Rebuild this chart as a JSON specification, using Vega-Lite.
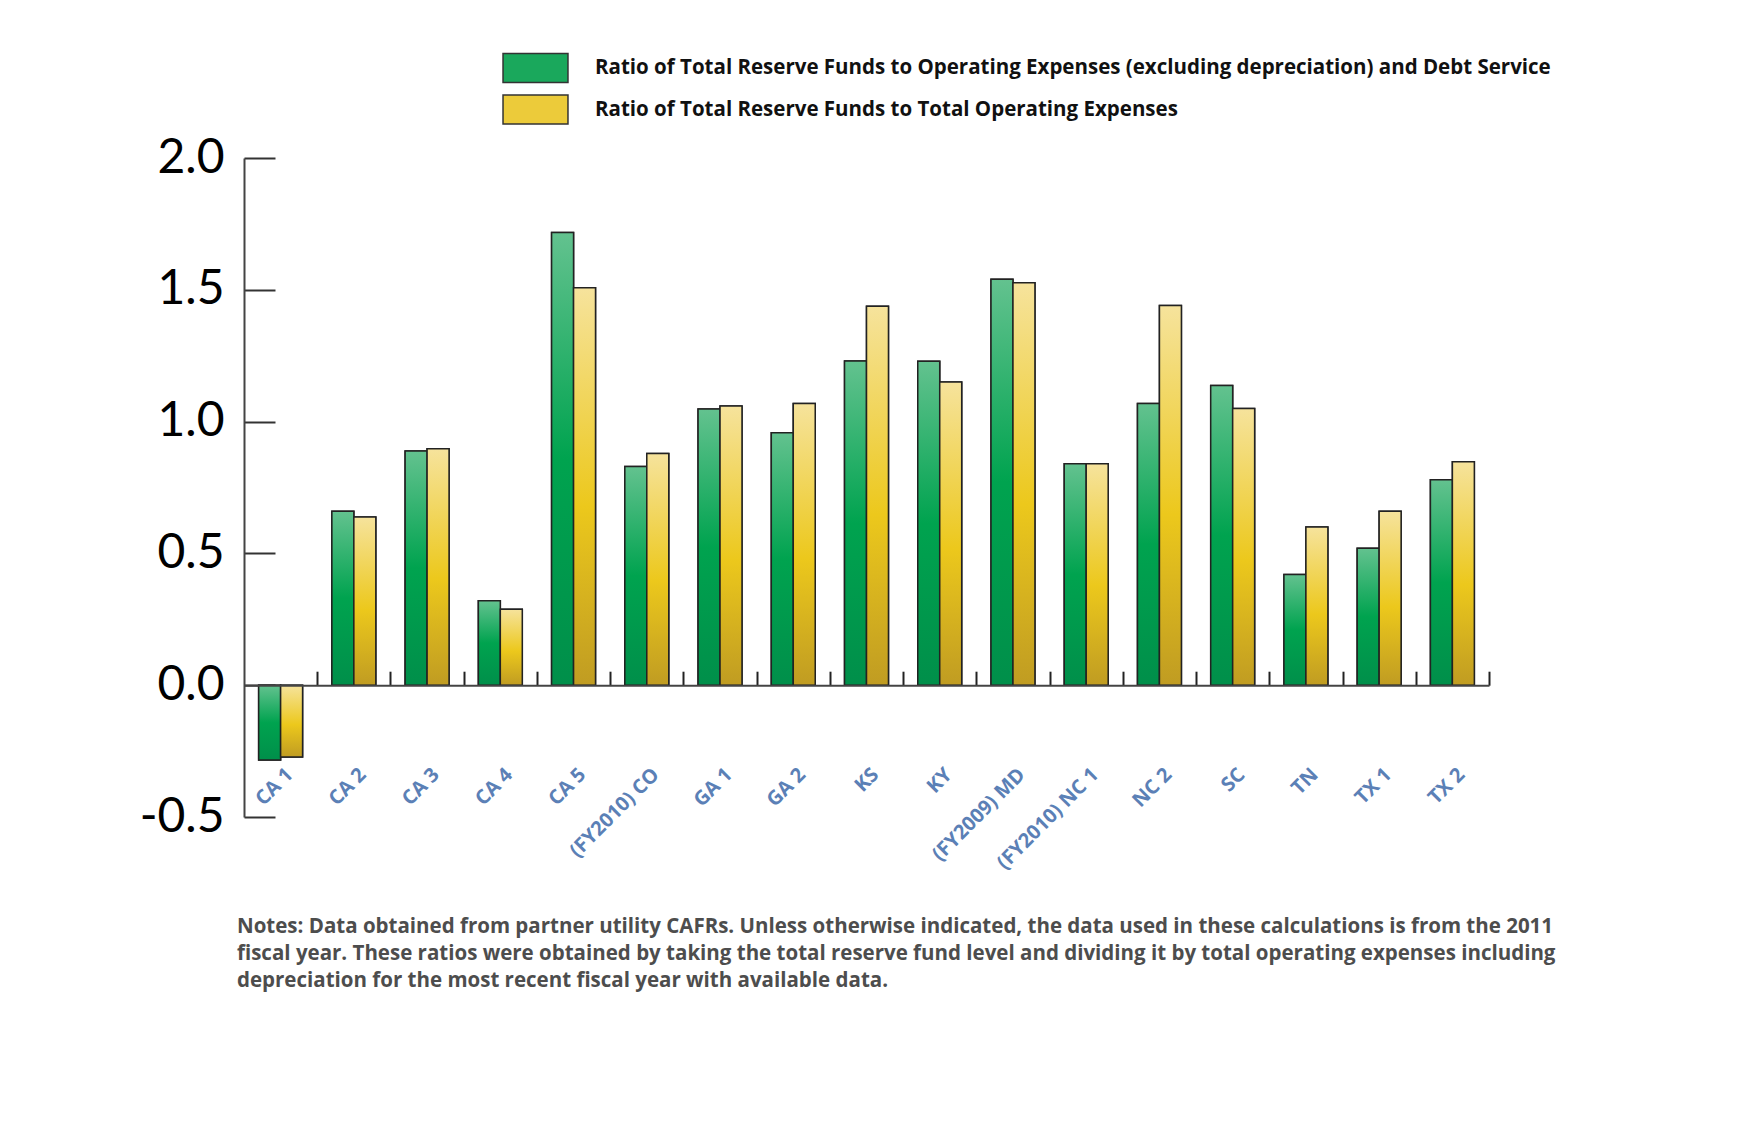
{
  "$schema": "https://vega.github.io/schema/vega-lite/v6.json",
  "width": 1245,
  "height": 659,
  "autosize": {"type": "none"},
  "padding": {"left": 244, "top": 158, "right": 265, "bottom": 317},
  "background": "white",
  "config": {"view": {"stroke": null}, "axis": {"grid": false}},
  "datasets": {
    "ratios": [
      {"site": "CA 1", "series": "Ratio of Total Reserve Funds to Operating Expenses (excluding depreciation) and Debt Service", "value": -0.284},
      {"site": "CA 1", "series": "Ratio of Total Reserve Funds to Total Operating Expenses", "value": -0.272},
      {"site": "CA 2", "series": "Ratio of Total Reserve Funds to Operating Expenses (excluding depreciation) and Debt Service", "value": 0.66},
      {"site": "CA 2", "series": "Ratio of Total Reserve Funds to Total Operating Expenses", "value": 0.638},
      {"site": "CA 3", "series": "Ratio of Total Reserve Funds to Operating Expenses (excluding depreciation) and Debt Service", "value": 0.888},
      {"site": "CA 3", "series": "Ratio of Total Reserve Funds to Total Operating Expenses", "value": 0.897},
      {"site": "CA 4", "series": "Ratio of Total Reserve Funds to Operating Expenses (excluding depreciation) and Debt Service", "value": 0.32},
      {"site": "CA 4", "series": "Ratio of Total Reserve Funds to Total Operating Expenses", "value": 0.288},
      {"site": "CA 5", "series": "Ratio of Total Reserve Funds to Operating Expenses (excluding depreciation) and Debt Service", "value": 1.717},
      {"site": "CA 5", "series": "Ratio of Total Reserve Funds to Total Operating Expenses", "value": 1.508},
      {"site": "(FY2010) CO", "series": "Ratio of Total Reserve Funds to Operating Expenses (excluding depreciation) and Debt Service", "value": 0.83},
      {"site": "(FY2010) CO", "series": "Ratio of Total Reserve Funds to Total Operating Expenses", "value": 0.879},
      {"site": "GA 1", "series": "Ratio of Total Reserve Funds to Operating Expenses (excluding depreciation) and Debt Service", "value": 1.048},
      {"site": "GA 1", "series": "Ratio of Total Reserve Funds to Total Operating Expenses", "value": 1.059},
      {"site": "GA 2", "series": "Ratio of Total Reserve Funds to Operating Expenses (excluding depreciation) and Debt Service", "value": 0.958},
      {"site": "GA 2", "series": "Ratio of Total Reserve Funds to Total Operating Expenses", "value": 1.069},
      {"site": "KS", "series": "Ratio of Total Reserve Funds to Operating Expenses (excluding depreciation) and Debt Service", "value": 1.23},
      {"site": "KS", "series": "Ratio of Total Reserve Funds to Total Operating Expenses", "value": 1.438},
      {"site": "KY", "series": "Ratio of Total Reserve Funds to Operating Expenses (excluding depreciation) and Debt Service", "value": 1.229},
      {"site": "KY", "series": "Ratio of Total Reserve Funds to Total Operating Expenses", "value": 1.15},
      {"site": "(FY2009) MD", "series": "Ratio of Total Reserve Funds to Operating Expenses (excluding depreciation) and Debt Service", "value": 1.54},
      {"site": "(FY2009) MD", "series": "Ratio of Total Reserve Funds to Total Operating Expenses", "value": 1.527},
      {"site": "(FY2010) NC 1", "series": "Ratio of Total Reserve Funds to Operating Expenses (excluding depreciation) and Debt Service", "value": 0.84},
      {"site": "(FY2010) NC 1", "series": "Ratio of Total Reserve Funds to Total Operating Expenses", "value": 0.84},
      {"site": "NC 2", "series": "Ratio of Total Reserve Funds to Operating Expenses (excluding depreciation) and Debt Service", "value": 1.069},
      {"site": "NC 2", "series": "Ratio of Total Reserve Funds to Total Operating Expenses", "value": 1.44},
      {"site": "SC", "series": "Ratio of Total Reserve Funds to Operating Expenses (excluding depreciation) and Debt Service", "value": 1.137},
      {"site": "SC", "series": "Ratio of Total Reserve Funds to Total Operating Expenses", "value": 1.05},
      {"site": "TN", "series": "Ratio of Total Reserve Funds to Operating Expenses (excluding depreciation) and Debt Service", "value": 0.42},
      {"site": "TN", "series": "Ratio of Total Reserve Funds to Total Operating Expenses", "value": 0.6},
      {"site": "TX 1", "series": "Ratio of Total Reserve Funds to Operating Expenses (excluding depreciation) and Debt Service", "value": 0.52},
      {"site": "TX 1", "series": "Ratio of Total Reserve Funds to Total Operating Expenses", "value": 0.66},
      {"site": "TX 2", "series": "Ratio of Total Reserve Funds to Operating Expenses (excluding depreciation) and Debt Service", "value": 0.779},
      {"site": "TX 2", "series": "Ratio of Total Reserve Funds to Total Operating Expenses", "value": 0.848}
    ]
  },
  "data": {"name": "ratios"},
  "title": {
    "text": [
      "Notes: Data obtained from partner utility CAFRs.  Unless otherwise indicated,  the data used in these calculations is from the 2011",
      "fiscal year.  These ratios were obtained by taking the total reserve fund level and dividing it by total operating expenses including",
      "depreciation for the  most recent fiscal year with available data."
    ],
    "orient": "bottom",
    "anchor": "start",
    "align": "left",
    "frame": "group",
    "font": "Open Sans",
    "fontSize": 20.5,
    "fontWeight": "bold",
    "color": "#4d4d4d",
    "lineHeight": 27,
    "offset": 44,
    "dx": -7
  },
  "encoding": {
    "x": {
      "field": "site",
      "type": "nominal",
      "sort": null,
      "scale": {"paddingInner": 0.4, "paddingOuter": 0.2},
      "axis": {
        "orient": "bottom",
        "offset": -131.8,
        "title": null,
        "domain": true,
        "domainColor": "#444",
        "domainWidth": 2,
        "ticks": true,
        "tickOffset": 36.62,
        "tickSize": -14,
        "tickColor": "#222",
        "tickWidth": 2,
        "labelOffset": -28,
        "labelAngle": -45,
        "labelAlign": "right",
        "labelBaseline": "middle",
        "labelPadding": 100,
        "labelFont": "Open Sans",
        "labelFontWeight": "bold",
        "labelFontSize": 20,
        "labelColor": "#5b80b6",
        "labelLimit": 0,
        "zindex": 1
      }
    },
    "xOffset": {"field": "series", "type": "nominal"},
    "y": {
      "field": "value",
      "type": "quantitative",
      "scale": {"domain": [-0.5, 2], "nice": false, "zero": false},
      "axis": {
        "orient": "left",
        "title": null,
        "values": [-0.5, 0, 0.5, 1, 1.5, 2],
        "domainColor": "#444",
        "domainWidth": 2,
        "tickSize": -31,
        "tickColor": "#333",
        "tickWidth": 2,
        "labelFont": "Lato",
        "labelFontSize": 48,
        "labelColor": "#000",
        "labelPadding": 51,
        "labelExpr": "datum.value < 0 ? '-' + format(-datum.value, '.1f') : format(datum.value, '.1f')"
      }
    }
  },
  "layer": [
    {
      "mark": {"type": "bar", "stroke": "#222", "strokeWidth": 1.5},
      "encoding": {
        "color": {
          "field": "series",
          "type": "nominal",
          "scale": {"range": ["#1aa85c", "#eccb3a"]},
          "legend": {
            "orient": "none",
            "legendX": 276,
            "legendY": -105.5,
            "title": null,
            "direction": "vertical",
            "symbolType": "M-2.24,-1H2.24V1H-2.24Z",
            "symbolSize": 841,
            "symbolStrokeColor": "#333",
            "symbolStrokeWidth": 1.5,
            "symbolOpacity": 1,
            "labelFont": "Open Sans",
            "labelFontWeight": "bold",
            "labelFontSize": 20.5,
            "labelColor": "#111",
            "labelOffset": 44,
            "labelLimit": 0,
            "rowPadding": 6.5
          }
        }
      }
    },
    {
      "transform": [{"filter": "indexof(datum.series, 'Debt') >= 0"}],
      "mark": {
        "type": "bar",
        "stroke": "#222",
        "strokeWidth": 1.5,
        "color": {
          "gradient": "linear",
          "x1": 0, "y1": 0, "x2": 0, "y2": 1,
          "stops": [
            {"offset": 0, "color": "#63c28f"},
            {"offset": 0.5, "color": "#00a34f"},
            {"offset": 1, "color": "#008f4a"}
          ]
        }
      }
    },
    {
      "transform": [{"filter": "indexof(datum.series, 'Debt') < 0"}],
      "mark": {
        "type": "bar",
        "stroke": "#222",
        "strokeWidth": 1.5,
        "color": {
          "gradient": "linear",
          "x1": 0, "y1": 0, "x2": 0, "y2": 1,
          "stops": [
            {"offset": 0, "color": "#f6e39c"},
            {"offset": 0.55, "color": "#ecc81c"},
            {"offset": 1, "color": "#c09c22"}
          ]
        }
      }
    }
  ]
}
